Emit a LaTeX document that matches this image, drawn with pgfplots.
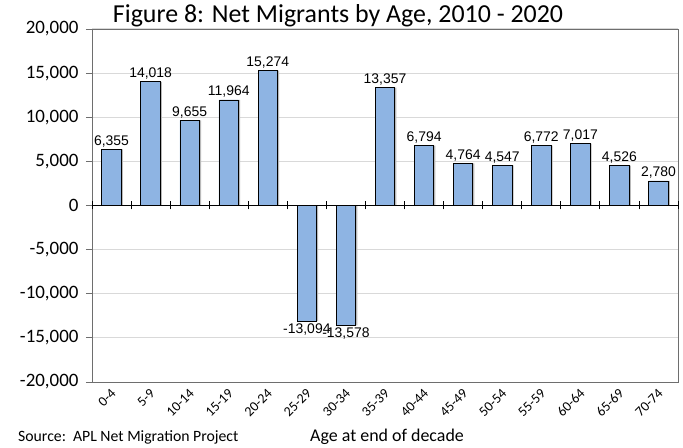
\documentclass[border=0pt]{standalone}
\usepackage{fontspec}
\setmainfont{Carlito}
\newfontfamily\arialf{Liberation Sans}
\usepackage{pgfplots}
\pgfplotsset{compat=1.18}

\definecolor{barblue}{RGB}{142,180,227}
\definecolor{framegray}{RGB}{110,110,110}
\definecolor{gridgray}{RGB}{217,217,217}

\begin{document}
\begin{tikzpicture}
\useasboundingbox (0,0) rectangle (683bp,448bp);
\begin{axis}[
  at={(92bp,66bp)}, anchor=south west,
  scale only axis, width=586bp, height=353bp,
  xmin=-0.5, xmax=14.5, ymin=-20000, ymax=20000,
  ytick={-20000,-15000,...,20000},
  xtick={0,...,14},
  xticklabels={0-4,5-9,10-14,15-19,20-24,25-29,30-34,35-39,40-44,45-49,50-54,55-59,60-64,65-69,70-74},
  xticklabel style={rotate=45, anchor=east, font=\fontsize{14}{14}\selectfont, inner sep=1bp, yshift=-4bp},
  yticklabel style={font=\fontsize{19}{19}\selectfont, xshift=-4bp},
  x tick style={draw=none},
  y tick style={framegray, line width=0.8bp},
  tick align=outside, ytick pos=left, xtick pos=bottom,
  major tick length=6bp,
  scaled y ticks=false,
  /pgf/number format/.cd, 1000 sep={,}, assume math mode=true,
  /pgfplots/.cd,
  axis line style={framegray, line width=0.8bp},
  ymajorgrids, grid style={gridgray, line width=1bp},
  clip=false,
]
% drop shadow behind the bars
\addplot[ybar, bar width=19.5bp, bar shift=1.6bp, fill=gray!55, draw=none, forget plot]
  coordinates {(0,6355) (1,14018) (2,9655) (3,11964) (4,15274) (5,-13094) (6,-13578)
  (7,13357) (8,6794) (9,4764) (10,4547) (11,6772) (12,7017) (13,4526) (14,2780)};
% net migrants per age group
\addplot[ybar, bar width=19.5bp, bar shift=0pt, fill=barblue, draw=black, line width=0.8bp,
  nodes near coords,
  nodes near coords style={font=\arialf\fontsize{14}{14}\selectfont, black, inner sep=2bp}]
  coordinates {(0,6355) (1,14018) (2,9655) (3,11964) (4,15274) (5,-13094) (6,-13578)
  (7,13357) (8,6794) (9,4764) (10,4547) (11,6772) (12,7017) (13,4526) (14,2780)};
% zero line with category separators
\draw[black, line width=1bp] (axis cs:-0.5,0) -- (axis cs:14.5,0);
\pgfplotsinvokeforeach{-0.5,0.5,...,14.5}{
  \draw[black, line width=0.8bp] ([yshift=-4bp]axis cs:#1,0) -- ([yshift=4bp]axis cs:#1,0);
}
\end{axis}
\node[font=\fontsize{26}{26}\selectfont] at (338bp,432bp) {Figure 8: Net Migrants by Age, 2010 - 2020};
\node[font=\fontsize{15.8}{15.8}\selectfont, anchor=west, inner sep=0pt] at (18bp,11bp) {Source:\ \ APL Net Migration Project};
\node[font=\fontsize{18}{18}\selectfont] at (387bp,11bp) {Age at end of decade};
\end{tikzpicture}
\end{document}
